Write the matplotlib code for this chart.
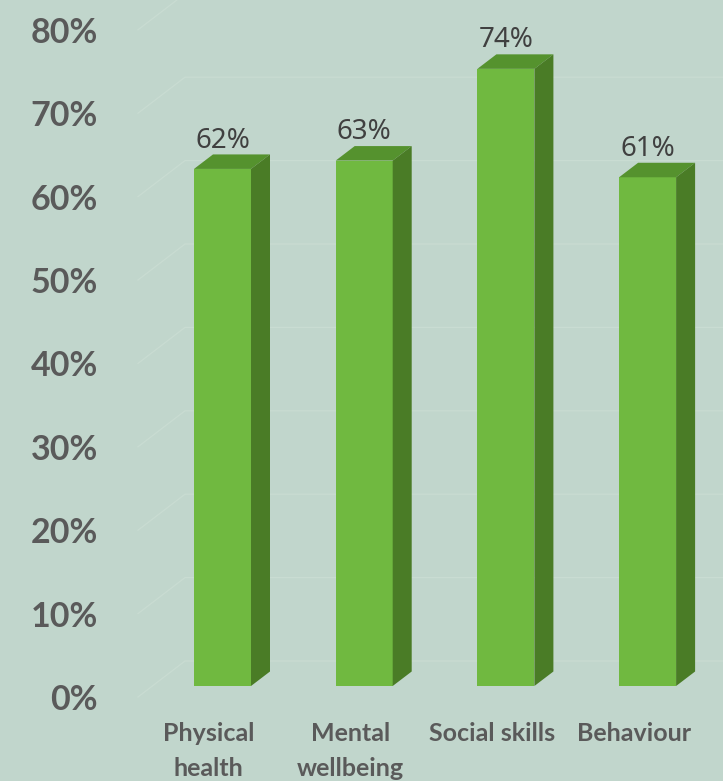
import numpy as np
import matplotlib.pyplot as plt
from matplotlib.patches import Polygon
from matplotlib.transforms import ScaledTranslation

categories = ["Physical\nhealth", "Mental\nwellbeing", "Social skills", "Behaviour"]
values = [62, 63, 74, 61]
yticks = [0, 10, 20, 30, 40, 50, 60, 70, 80]
ytick_labels = ["0%", "10%", "20%", "30%", "40%", "50%", "60%", "70%", "80%"]

bg = "#c1d6cc"
grid_col = "#c9dcd2"
front_col = "#70b940"
top_col = "#55922e"
side_col = "#4a7c26"

plt.rcParams['font.family'] = ['Noto Sans', 'DejaVu Sans']
axis_font = ['Lato', 'DejaVu Sans']

W, H, DPI = 723, 781, 100
px_x = 141.7   # pixels per category step
px_y = 8.34    # pixels per percent
x0_px = 222.5  # pixel x of first bar centre
floor_px = 686 # pixel y of bar fronts at 0%

fig = plt.figure(figsize=(W / DPI, H / DPI), dpi=DPI, facecolor=bg)
ax = fig.add_axes([0, (H - floor_px) / H, 1, floor_px / H])
ax.set_facecolor(bg)
ax.set_xlim(-x0_px / px_x, (W - x0_px) / px_x)
ax.set_ylim(0, floor_px / px_y)
for s in ax.spines.values():
    s.set_visible(False)

# bar depth (front face -> back face) and wall depth, in data units
bdx, bdy = 19 / px_x, 14.5 / px_y
wall_x0 = (138 - x0_px) / px_x
wall_x1 = (185 - x0_px) / px_x
lab_dy = -11 / px_y
wall_dy = 25 / px_y

# back wall grid with perspective stubs on the left
for v in yticks:
    ax.plot([wall_x0, wall_x1, ax.get_xlim()[1]],
            [v + lab_dy, v + wall_dy, v + wall_dy],
            color=grid_col, lw=0.9, zorder=1, clip_on=False)

x = np.arange(len(values))
bw = 57 / px_x
ax.bar(x, values, width=bw, color=front_col, zorder=3)
for xi, v in zip(x, values):
    l, r = xi - bw / 2, xi + bw / 2
    ax.add_patch(Polygon([(l, v), (r, v), (r + bdx, v + bdy), (l + bdx, v + bdy)],
                         closed=True, facecolor=top_col, edgecolor='none', zorder=3))
    ax.add_patch(Polygon([(r, 0), (r + bdx, bdy), (r + bdx, v + bdy), (r, v)],
                         closed=True, facecolor=side_col, edgecolor='none', zorder=3))
    ax.annotate(f"{v}%", (xi, v + bdy), xytext=(0, 10), textcoords='offset points',
                ha='center', va='center', fontsize=20, color='#404040', zorder=4)

# y tick labels sit slightly below the bar-front level
ax.set_yticks(yticks)
ax.set_yticklabels(ytick_labels, fontsize=24.5, fontweight='bold', color='#5a5a5a',
                   family=axis_font)
ax.tick_params(axis='y', length=0, pad=-98 * 0.72)
off_y = ScaledTranslation(0, -11 / DPI, fig.dpi_scale_trans)
for lab in ax.get_yticklabels():
    lab.set_transform(lab.get_transform() + off_y)

ax.set_xticks(x)
ax.set_xticklabels(categories, fontsize=18, fontweight='bold', color='#5a5a5a',
                   family=axis_font, linespacing=1.62)
ax.tick_params(axis='x', length=0, pad=26)
off_x = ScaledTranslation(-14 / DPI, 0, fig.dpi_scale_trans)
for lab in ax.get_xticklabels():
    lab.set_transform(lab.get_transform() + off_x)

fig.savefig("out.png", dpi=DPI, facecolor=bg)
